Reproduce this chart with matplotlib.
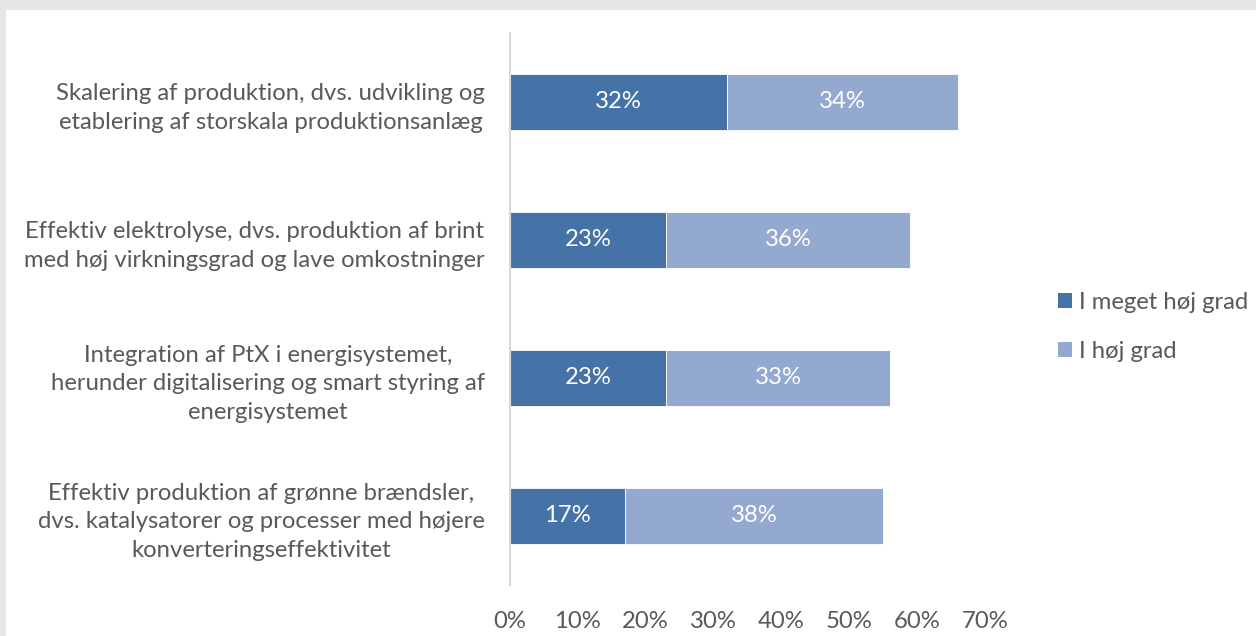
import matplotlib.pyplot as plt
from matplotlib.patches import Rectangle, Patch

plt.rcParams['font.family'] = ['Lato', 'DejaVu Sans']

# Data
categories = [
    "Skalering af produktion, dvs. udvikling og\netablering af storskala produktionsanlæg",
    "Effektiv elektrolyse, dvs. produktion af brint\nmed høj virkningsgrad og lave omkostninger",
    "Integration af PtX i energisystemet,\nherunder digitalisering og smart styring af\nenergisystemet",
    "Effektiv produktion af grønne brændsler,\ndvs. katalysatorer og processer med højere\nkonverteringseffektivitet",
]
meget_hoej = [32, 23, 23, 17]
hoej = [34, 36, 33, 38]
series_names = ["I meget høj grad", "I høj grad"]
x_ticks = [0, 10, 20, 30, 40, 50, 60, 70]

dark = "#4673a7"
light = "#94a9cf"
text_col = "#595959"
fs = 17.2

W, H = 1256, 636
fig = plt.figure(figsize=(W / 100, H / 100), dpi=100, facecolor="#e6e7e9")
# white chart area inside the grey frame
fig.patches.append(Rectangle((6 / W, 0), 1, 1 - 10 / H, transform=fig.transFigure,
                             facecolor="white", edgecolor="none", zorder=-10))

ax = fig.add_axes([510 / W, (H - 585) / H, 475 / W, 552 / H])
ax.set_facecolor("none")

y = list(range(len(categories)))
b1 = ax.barh(y, meget_hoej, height=0.4, color=dark, edgecolor="white", linewidth=0.6)
b2 = ax.barh(y, hoej, left=meget_hoej, height=0.4, color=light, edgecolor="white", linewidth=0.6)

for bars, vals, lefts in [(b1, meget_hoej, [0] * 4), (b2, hoej, meget_hoej)]:
    for yi, v, l in zip(y, vals, lefts):
        ax.text(l + v / 2, yi, f"{v}%", ha="center", va="center",
                color="white", fontsize=fs)

ax.set_ylim(len(categories) - 0.5, -0.5)
ax.set_xlim(0, 70)
ax.set_xticks(x_ticks)
ax.set_xticklabels([f"{t}%" for t in x_ticks])
ax.set_yticks(y)
ax.set_yticklabels(categories, multialignment="center", linespacing=1.45)

ax.tick_params(axis="y", length=0, pad=18, labelsize=fs, labelcolor=text_col)
ax.tick_params(axis="x", length=0, pad=19, labelsize=fs, labelcolor=text_col)

for side in ["top", "right", "bottom"]:
    ax.spines[side].set_visible(False)
ax.spines["left"].set_color("#d9d9d9")
ax.spines["left"].set_linewidth(1.5)

handles = [Patch(facecolor=dark, edgecolor="none"), Patch(facecolor=light, edgecolor="none")]
fig.legend(handles, series_names, loc="center left", bbox_to_anchor=(1048 / W, 1 - 327 / H),
           frameon=False, fontsize=fs, labelcolor=text_col, handlelength=0.6,
           handleheight=0.6, handletextpad=0.3, labelspacing=1.2, borderaxespad=0)

fig.savefig("out.png", dpi=100, facecolor=fig.get_facecolor())
